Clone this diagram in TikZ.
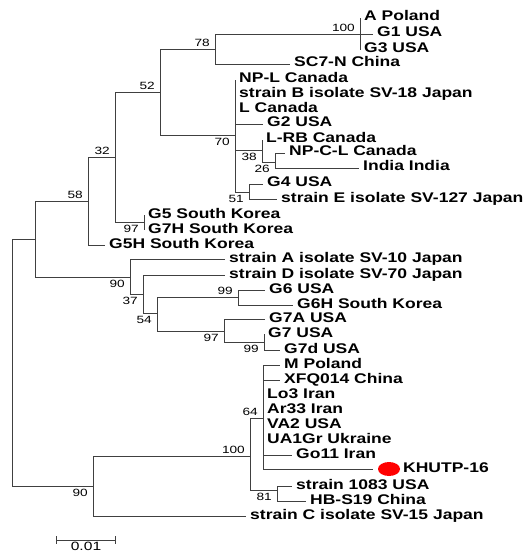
\documentclass[tikz,border=0pt]{standalone}
\usepackage{fontspec}
\newfontfamily\lblfont[FakeStretch=1.25]{Liberation Sans}
\newfontfamily\numfont[FakeStretch=1.3]{Liberation Sans}
\usetikzlibrary{shapes.geometric}

\begin{document}
\begin{tikzpicture}[x=1pt, y=-1pt,
  branch/.style={draw=black!75, line width=0.9pt},
  leaf/.style={anchor=west, inner xsep=4pt, inner ysep=0pt, text height=10pt, text depth=4pt,
    font=\lblfont\bfseries\fontsize{14}{14}\selectfont},
  bup/.style={anchor=south east, inner xsep=5pt, inner ysep=2pt,
    font=\numfont\fontsize{10.5}{10.5}\selectfont},
  bdn/.style={anchor=north east, inner xsep=5pt, inner ysep=3pt,
    font=\numfont\fontsize{10.5}{10.5}\selectfont}]
  \useasboundingbox (0,0) rectangle (525,553);
  % Internal nodes of the tree
  \coordinate (root) at (12,362);
  \coordinate (n1) at (35,239);
  \coordinate (n58) at (88,201);
  \coordinate (n32) at (115,157);
  \coordinate (n52) at (160,92);
  \coordinate (n78) at (215,49);
  \coordinate (n100a) at (360,34);
  \coordinate (n70) at (235,135);
  \coordinate (n38) at (262,150);
  \coordinate (n26) at (275,162);
  \coordinate (n51) at (249,192);
  \coordinate (n97a) at (144,222);
  \coordinate (n90a) at (130,277);
  \coordinate (n37) at (143,294);
  \coordinate (n54) at (157,313);
  \coordinate (n99a) at (238,297);
  \coordinate (n97b) at (224,331);
  \coordinate (n99b) at (264,342);
  \coordinate (n90b) at (93,486);
  \coordinate (n100b) at (250,456);
  \coordinate (n64) at (263,418);
  \coordinate (n81) at (277,490);
  % Leaves: name / tip x / y / label
  \foreach \nm/\tx/\ty/\txt in {
      aPol/360/18/A Poland, g1/373/34/G1 USA, g3/360/50/G3 USA,
      sc7n/290/64/SC7-N China, npl/235/80/NP-L Canada,
      strB/235/95/strain B isolate SV-18 Japan, lCan/235/110/L Canada,
      g2/263/124/G2 USA, lrb/262/140/L-RB Canada, npcl/285/153/NP-C-L Canada,
      india/359/168/India India, g4/263/184/G4 USA,
      strE/277/199/strain E isolate SV-127 Japan,
      g5/144/215/G5 South Korea, g7h/144/230/G7H South Korea,
      g5h/105/245/G5H South Korea,
      strA/225/259/strain A isolate SV-10 Japan,
      strD/225/275/strain D isolate SV-70 Japan,
      g6/265/290/G6 USA, g6h/293/305/G6H South Korea,
      g7a/265/319/G7A USA, g7/264/334/G7 USA, g7d/280/350/G7d USA,
      mPol/280/365/M Poland, xfq/280/380/XFQ014 China,
      lo3/263/395/Lo3 Iran, ar33/263/410/Ar33 Iran, va2/263/425/VA2 USA,
      ua1/263/440/UA1Gr Ukraine, go11/292/455/Go11 Iran,
      s1083/292/486/strain 1083 USA, hbs/306/501/HB-S19 China,
      strC/246/516/strain C isolate SV-15 Japan} {
    \node[leaf] (\nm) at (\tx,\ty) {\txt};
  }
  % New isolate, marked with a red dot
  \coordinate (khtip) at (373,469);
  \node[ellipse, fill=red, minimum width=22pt, minimum height=14pt, inner sep=0pt] (khdot) at (389,469) {};
  \node[leaf] (khutp) at (399,469) {KHUTP-16};
  % Branches
  \foreach \a/\b in {root/n1, root/n90b, n1/n58, n1/n90a, n58/n32, n58/g5h,
      n32/n52, n32/n97a, n52/n78, n52/n70, n78/n100a, n78/sc7n,
      n100a/aPol, n100a/g1, n100a/g3, n70/npl, n70/strB, n70/lCan, n70/g2,
      n70/n38, n70/n51, n38/lrb, n38/n26, n26/npcl, n26/india, n51/g4, n51/strE,
      n97a/g5, n97a/g7h, n90a/strA, n90a/n37, n37/strD, n37/n54,
      n54/n99a, n54/n97b, n99a/g6, n99a/g6h, n97b/g7a, n97b/n99b,
      n99b/g7, n99b/g7d, n90b/n100b, n90b/strC, n100b/n64, n100b/n81,
      n64/mPol, n64/xfq, n64/lo3, n64/ar33, n64/va2, n64/ua1, n64/go11,
      n64/khtip, n81/s1083, n81/hbs} {
    \draw[branch] (\a) |- (\b);
  }
  % Bootstrap values
  \foreach \nd/\v in {n100a/100, n78/78, n52/52, n32/32, n58/58, n99a/99, n64/64, n100b/100} {
    \node[bup] (b\nd) at (\nd) {\v};
  }
  \foreach \nd/\v in {n70/70, n38/38, n26/26, n51/51, n97a/97, n90a/90, n37/37,
      n54/54, n97b/97, n99b/99, n81/81, n90b/90} {
    \node[bdn] (b\nd) at (\nd) {\v};
  }
  % Scale bar
  \coordinate (sbL) at (56,540);
  \coordinate (sbR) at (116,540);
  \draw[branch, |-|] (sbL) -- (sbR)
    node[midway, below, inner sep=2pt, font=\numfont\fontsize{12}{12}\selectfont] (sblab) {0.01};
\end{tikzpicture}
\end{document}
